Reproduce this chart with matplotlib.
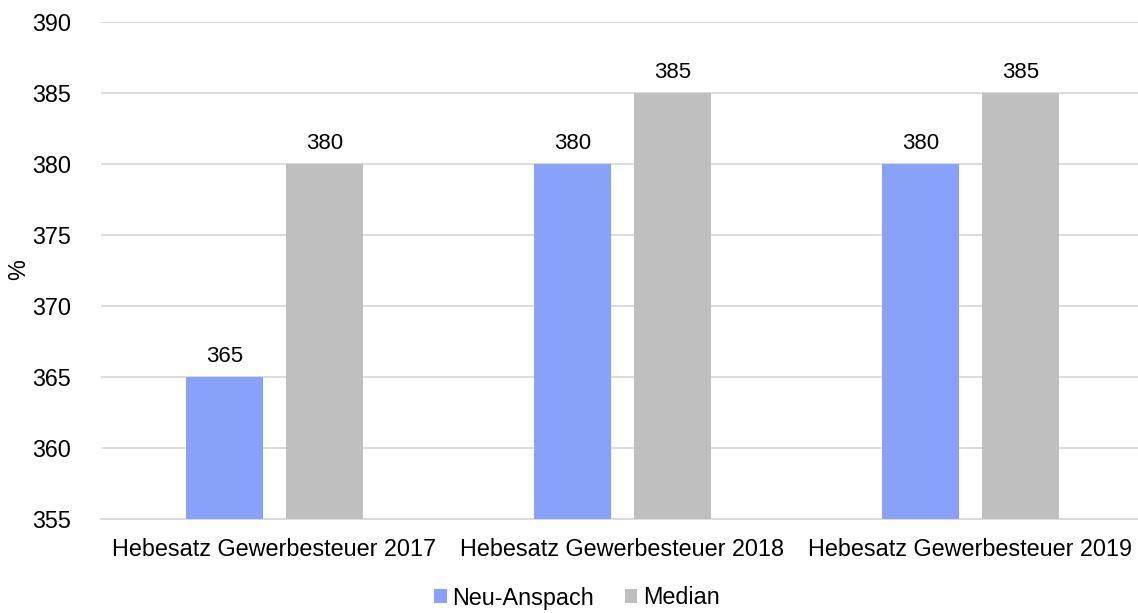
import matplotlib.pyplot as plt
import numpy as np

plt.rcParams['font.family'] = ['Liberation Sans', 'DejaVu Sans']

categories = ['Hebesatz Gewerbesteuer 2017', 'Hebesatz Gewerbesteuer 2018', 'Hebesatz Gewerbesteuer 2019']
neu_anspach = [365, 380, 380]
median = [380, 385, 385]
yticks = [355, 360, 365, 370, 375, 380, 385, 390]

fs = 16.8

fig = plt.figure(figsize=(11.38, 6.13), dpi=100)
ax = fig.add_axes([100.5 / 1138, 1 - 519 / 613, 1044 / 1138, 497 / 613])

x = np.arange(len(categories))
w = 0.224
off = 0.1437
b1 = ax.bar(x - off, neu_anspach, w, color='#87A2F8', label='Neu-Anspach', zorder=3)
b2 = ax.bar(x + off, median, w, color='#BFBFBF', label='Median', zorder=3)

for bars in (b1, b2):
    for r in bars:
        ax.annotate(f'{r.get_height():.0f}', (r.get_x() + r.get_width() / 2, r.get_height()),
                    xytext=(0, 7.5), textcoords='offset points', ha='center', va='bottom',
                    fontsize=16, color='#000000')

ax.set_ylim(355, 390)
ax.set_xlim(-0.5, 2.5)
ax.set_yticks(yticks)
ax.set_xticks(x)
ax.set_xticklabels(categories)
ax.tick_params(axis='both', length=0, labelsize=fs, colors='#000000')
ax.tick_params(axis='y', pad=21)
ax.tick_params(axis='x', pad=14)
ax.yaxis.grid(True, color='#D9D9D9', linewidth=1.3, zorder=0)
for s in ['top', 'right', 'left']:
    ax.spines[s].set_visible(False)
ax.spines['bottom'].set_color('#D9D9D9')
ax.spines['bottom'].set_linewidth(1.3)

fig.text(19 / 1138, 1 - 270 / 613, '%', rotation=90, ha='center', va='center', fontsize=fs)

fig.legend(loc='center', bbox_to_anchor=(577 / 1138, 1 - 598 / 613), ncol=2, frameon=False,
           fontsize=fs, handlelength=0.55, handleheight=0.55, handletextpad=0.25, columnspacing=1.3)

fig.savefig('out.png', dpi=100)
